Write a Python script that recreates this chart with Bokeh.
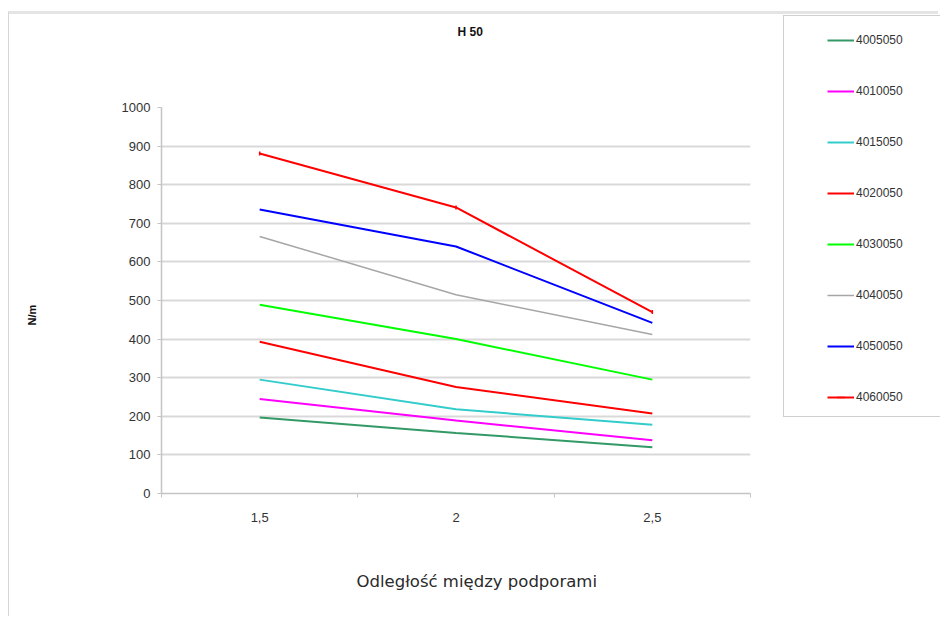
from bokeh.plotting import figure
from bokeh.models import (FixedTicker, Legend, LegendItem, Title, Range1d,
                          CustomJSTickFormatter)
from bokeh.embed import file_html
from bokeh.resources import INLINE

# ---- data ----
x_values = [1.5, 2.0, 2.5]
x_labels = ["1,5", "2", "2,5"]
y_ticks = [0, 100, 200, 300, 400, 500, 600, 700, 800, 900, 1000]

series_names = ["4005050", "4010050", "4015050", "4020050",
                "4030050", "4040050", "4050050", "4060050"]
s4005050 = [197, 157, 120]
s4010050 = [245, 189, 138]
s4015050 = [295, 218, 178]
s4020050 = [393, 276, 207]
s4030050 = [489, 400, 295]
s4040050 = [666, 515, 412]
s4050050 = [736, 640, 442]
s4060050 = [881, 741, 470]
series_values = [s4005050, s4010050, s4015050, s4020050,
                 s4030050, s4040050, s4050050, s4060050]
series_colors = ["#339966", "#ff00ff", "#33cccc", "#ff0000",
                 "#00ff00", "#a6a6a6", "#0000ff", "#ff0000"]
series_widths = [2, 2, 2, 2, 2, 1.5, 2, 2]
series_markers = [None, None, None, None, None, None, None, "dash"]

FONT = "Liberation Sans"

# ================= main chart =================
p = figure(width=930, height=605, output_backend="svg", toolbar_location=None,
           x_range=Range1d(1.25, 2.75), y_range=Range1d(0, 1000),
           min_border_left=152, min_border_right=189,
           min_border_top=93, min_border_bottom=126,
           margin=(11, 0, 0, 8),
           styles={"border-top": "3px solid #e4e4e4", "border-left": "1px solid #d6d6d6"})
p.outline_line_color = None
p.title.text = ""

for vals, col, w, mk in zip(series_values, series_colors, series_widths, series_markers):
    p.line(x=x_values, y=vals, line_color=col, line_width=w)
    if mk:
        p.scatter(x=x_values, y=vals, marker=mk, angle=1.5708, size=4,
                  line_color=col, line_width=1.5)

# x axis
p.xaxis.ticker = FixedTicker(ticks=x_values, minor_ticks=[1.25, 1.75, 2.25, 2.75])
p.xaxis.formatter = CustomJSTickFormatter(
    args=dict(vals=x_values, labs=x_labels),
    code="const i = vals.indexOf(tick); return i >= 0 ? labs[i] : '';")
p.xaxis.major_tick_line_color = None
p.xaxis.major_tick_out = 0
p.xaxis.major_tick_in = 0
p.xaxis.minor_tick_out = 4
p.xaxis.minor_tick_in = 0
p.xaxis.minor_tick_line_color = "#c4c4c4"
p.xaxis.axis_line_color = "#c4c4c4"
p.xaxis.axis_line_width = 1.5
p.xaxis.major_label_standoff = 15
p.xaxis.major_label_text_font = FONT
p.xaxis.major_label_text_font_size = "13px"
p.xaxis.major_label_text_color = "#333333"
p.xgrid.visible = False

# y axis
p.yaxis.ticker = FixedTicker(ticks=y_ticks)
p.yaxis.minor_tick_line_color = None
p.yaxis.major_tick_out = 4
p.yaxis.major_tick_in = 0
p.yaxis.major_tick_line_color = "#c4c4c4"
p.yaxis.axis_line_color = "#c4c4c4"
p.yaxis.axis_line_width = 1.5
p.yaxis.major_label_standoff = 7
p.yaxis.major_label_text_font = FONT
p.yaxis.major_label_text_font_size = "13px"
p.yaxis.major_label_text_color = "#333333"
p.ygrid.ticker = FixedTicker(ticks=y_ticks)
p.ygrid.grid_line_color = "#d9d9d9"
p.ygrid.grid_line_width = 2

# chart title (a blank spacer title sits between it and the frame)
p.add_layout(Title(text="\u00a0", standoff=45, text_font=FONT,
                   text_font_size="12px"), "above")
p.add_layout(Title(text="H 50", align="left", offset=296, standoff=16,
                   text_font=FONT, text_font_size="12px",
                   text_font_style="bold", text_color="#111111"), "above")

# x axis title
p.add_layout(Title(text="\u00a0", standoff=24, text_font=FONT,
                   text_font_size="12px"), "below")
p.add_layout(Title(text="Odległość między podporami", align="left", offset=195,
                   standoff=10, text_font="DejaVu Sans", text_font_size="16.5px",
                   text_font_style="normal", text_color="#2a2a2a"), "below")

# y axis title
p.add_layout(Title(text="\u00a0", standoff=60, text_font=FONT,
                   text_font_size="12px"), "left")
p.add_layout(Title(text="N/m", align="left", offset=168, standoff=10,
                   text_font=FONT, text_font_size="11px",
                   text_font_style="bold", text_color="#111111"), "left")

# ================= legend panel =================
lg = figure(width=157, height=402, output_backend="svg", toolbar_location=None,
            x_range=Range1d(0, 1), y_range=Range1d(0, 1),
            x_axis_location=None, y_axis_location=None, min_border=0,
            styles={"position": "absolute", "left": "783px", "top": "15px",
                    "border-left": "1px solid #cfcfcf",
                    "border-top": "1px solid #cfcfcf",
                    "border-bottom": "1px solid #cfcfcf"})
lg.grid.visible = False
lg.outline_line_color = None
lg.title.text = ""

items = []
for name, vals, col, w, mk in zip(series_names, series_values, series_colors,
                                  series_widths, series_markers):
    # same series, outside this panel's view: only their legend swatches show
    rs = [lg.line(x=x_values, y=vals, line_color=col, line_width=w)]
    if mk:
        rs.append(lg.scatter(x=x_values, y=vals, marker=mk, angle=1.5708, size=4,
                             line_color=col, line_width=1.5))
    items.append(LegendItem(label=name, renderers=rs))

legend = Legend(items=items, location=(43, 11), padding=12, spacing=31,
                label_height=20, glyph_height=20, glyph_width=27,
                label_standoff=2, border_line_color=None,
                background_fill_alpha=0, label_text_font=FONT,
                label_text_font_size="12px", label_text_color="#333333")
lg.add_layout(legend)

open("out.html", "w").write(file_html([p, lg], INLINE))
